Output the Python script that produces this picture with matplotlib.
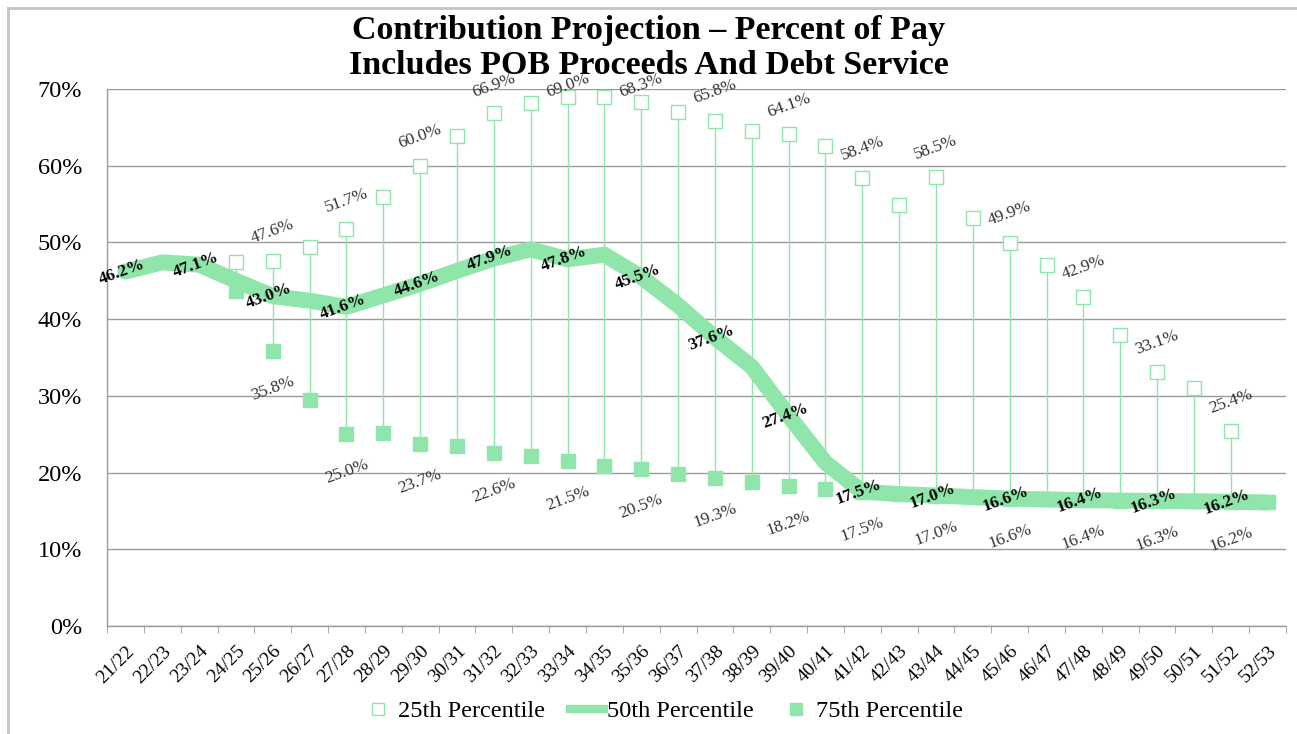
import matplotlib
matplotlib.use("Agg")
import matplotlib.pyplot as plt
import numpy as np
from matplotlib.lines import Line2D
from matplotlib.ticker import FuncFormatter

plt.rcParams['font.family'] = ['Liberation Serif', 'DejaVu Serif']

# ---------------- data ----------------
years = ["21/22", "22/23", "23/24", "24/25", "25/26", "26/27", "27/28", "28/29",
         "29/30", "30/31", "31/32", "32/33", "33/34", "34/35", "35/36", "36/37",
         "37/38", "38/39", "39/40", "40/41", "41/42", "42/43", "43/44", "44/45",
         "45/46", "46/47", "47/48", "48/49", "49/50", "50/51", "51/52", "52/53"]

p25 = [np.nan, np.nan, np.nan, 47.5, 47.6, 49.4, 51.7, 55.9,
       60.0, 63.9, 66.9, 68.2, 69.0, 69.0, 68.3, 67.0,
       65.8, 64.5, 64.1, 62.6, 58.4, 54.9, 58.5, 53.2,
       49.9, 47.0, 42.9, 37.9, 33.1, 31.0, 25.4, np.nan]

p50 = [46.2, 47.4, 47.1, 45.0, 43.0, 42.4, 41.6, 43.1,
       44.6, 46.3, 47.9, 49.1, 47.8, 48.4, 45.5, 41.8,
       37.6, 33.8, 27.4, 21.3, 17.5, 17.2, 17.0, 16.8,
       16.6, 16.5, 16.4, 16.35, 16.3, 16.25, 16.2, 16.1]

p75 = [np.nan, np.nan, np.nan, 43.7, 35.8, 29.5, 25.0, 25.2,
       23.7, 23.5, 22.6, 22.1, 21.5, 20.9, 20.5, 19.8,
       19.3, 18.8, 18.2, 17.8, 17.5, 17.2, 17.0, 16.8,
       16.6, 16.5, 16.4, 16.35, 16.3, 16.25, 16.2, 16.1]

# labelled points (every other year)
label_idx = list(range(0, 32, 2))
p25_label_idx = [i for i in range(4, 32, 2)]
p75_label_idx = [i for i in range(4, 32, 2)]

yticks = [0, 10, 20, 30, 40, 50, 60, 70]
title = "Contribution Projection \u2013 Percent of Pay\nIncludes POB Proceeds And Debt Service"
legend_labels = ["25th Percentile", "50th Percentile", "75th Percentile"]

# ---------------- style ----------------
GREEN = "#90E5AA"
GRID = "#9A9A9A"

fig = plt.figure(figsize=(12.97, 7.34), dpi=100)
ax = fig.add_axes([107/1297, 1 - 626/734, (1286 - 107)/1297, (626 - 89)/734])

x = np.arange(len(years))
a25 = np.array(p25, dtype=float)
a50 = np.array(p50, dtype=float)
a75 = np.array(p75, dtype=float)

# high-low lines
stack = np.vstack([a25, a50, a75])
hi = np.nanmax(stack, axis=0)
lo = np.nanmin(stack, axis=0)
ax.vlines(x, lo, hi, color=GREEN, lw=1.0, zorder=2)

# series
ax.plot(x, a75, ls='none', marker='s', ms=10, mfc=GREEN, mec=GREEN, zorder=3)
ax.plot(x, a50, color=GREEN, lw=11.5, solid_capstyle='round', solid_joinstyle='round', zorder=4)
ax.plot(x, a25, ls='none', marker='s', ms=10, mfc='white', mec=GREEN, mew=1.0, zorder=5)

# data labels
for i in label_idx:
    ax.text(x[i] - 0.1, a50[i], f"{a50[i]:.1f}%", ha='center', va='center', rotation=20,
            fontsize=12.5, fontweight='bold', color='black', zorder=7)
for i in p25_label_idx:
    if np.isnan(a25[i]):
        continue
    ly = min(a25[i] + 3.8, 70.4)
    ax.text(x[i], ly, f"{a25[i]:.1f}%", ha='center', va='center', rotation=20,
            fontsize=12.5, color='#333333', zorder=7)
for i in p75_label_idx:
    ax.text(x[i], a75[i] - 4.9, f"{a75[i]:.1f}%", ha='center', va='center', rotation=20,
            fontsize=12.5, color='#333333', zorder=7)

# axes
ax.set_xlim(-0.5, len(years) - 0.5)
ax.set_ylim(0, 70)
ax.set_yticks(yticks)
ax.yaxis.set_major_formatter(FuncFormatter(lambda v, p: f"{int(v)}%"))
ax.grid(axis='y', color=GRID, lw=1.0, zorder=0)
ax.set_axisbelow(True)
for s in ['top', 'right']:
    ax.spines[s].set_visible(False)
for s in ['left', 'bottom']:
    ax.spines[s].set_color(GRID)
    ax.spines[s].set_linewidth(1.0)

ax.set_xticks(x)
ax.set_xticklabels(years, rotation=45, ha='right', rotation_mode='anchor', fontsize=14)
ax.tick_params(axis='x', which='major', length=0, pad=12)
ax.set_xticks(np.arange(-0.5, len(years) + 0.5, 1), minor=True)
ax.tick_params(axis='x', which='minor', length=5, color=GRID, direction='out')
ax.tick_params(axis='y', length=0, pad=18, labelsize=17.5)

fig.text(0.5, 1 - 48/734, title, ha='center', va='center', fontsize=24.5,
         fontweight='bold', linespacing=1.17)

handles = [Line2D([], [], ls='none', marker='s', ms=9, mfc='white', mec=GREEN),
           Line2D([], [], color=GREEN, lw=6),
           Line2D([], [], ls='none', marker='s', ms=9, mfc=GREEN, mec=GREEN)]
fig.legend(handles, legend_labels, loc='center', bbox_to_anchor=(662/1297, 1 - 711/734),
           ncol=3, frameon=False, fontsize=17.5, handlelength=1.4, columnspacing=1.0,
           handletextpad=0.15)

# chart border (top and left)
fig.add_artist(Line2D([8/1297, 1], [1 - 8/734, 1 - 8/734], color='#C4C4C4', lw=2.0))
fig.add_artist(Line2D([8/1297, 8/1297], [0, 1 - 8/734], color='#C4C4C4', lw=2.0))

fig.savefig("out.png", dpi=100)
